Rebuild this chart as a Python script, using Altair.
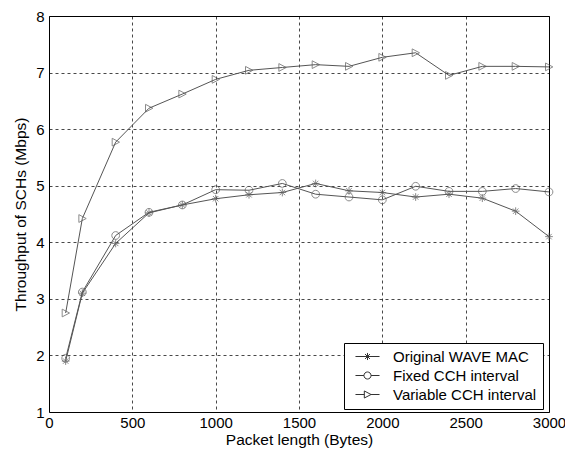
import altair as alt
import pandas as pd

packet_len = [100, 200, 400, 600, 800, 1000, 1200, 1400, 1600, 1800, 2000, 2200, 2400, 2600, 2800, 3000]
original = [1.90, 3.10, 3.98, 4.52, 4.66, 4.77, 4.84, 4.88, 5.04, 4.91, 4.88, 4.80, 4.85, 4.78, 4.55, 4.10]
fixed = [1.95, 3.12, 4.12, 4.53, 4.66, 4.93, 4.92, 5.04, 4.85, 4.80, 4.75, 4.99, 4.90, 4.90, 4.95, 4.89]
variable = [2.75, 4.42, 5.77, 6.37, 6.62, 6.88, 7.04, 7.09, 7.14, 7.11, 7.27, 7.35, 6.95, 7.11, 7.11, 7.10]
series = ["Original WAVE MAC", "Fixed CCH interval", "Variable CCH interval"]

rows = []
for name, vals in zip(series, [original, fixed, variable]):
    for x, y in zip(packet_len, vals):
        rows.append({"x": x, "y": y, "s": name})
df = pd.DataFrame(rows)

star = "M-1,0L1,0M0,-1L0,1M-0.7,-0.7L0.7,0.7M-0.7,0.7L0.7,-0.7"
circ = "M-1,0A1,1 0 1,0 1,0A1,1 0 1,0 -1,0Z"
tri = "M-0.9,-1L1,0L-0.9,1Z"

leg_star = "M-3.4,0L3.4,0M0,-1L0,1M-0.7,-0.7L0.7,0.7M-0.7,0.7L0.7,-0.7"
leg_circ = "M-3.4,0L-1,0M1,0L3.4,0M-1,0A1,1 0 1,0 1,0A1,1 0 1,0 -1,0"
leg_tri = "M-3.4,0L-0.9,0M1,0L3.4,0M-0.9,-1L1,0L-0.9,1Z"

font = "Liberation Sans"

xenc = alt.X("x:Q", scale=alt.Scale(domain=[0, 3000], nice=False),
             axis=alt.Axis(values=[0, 500, 1000, 1500, 2000, 2500, 3000], title="Packet length (Bytes)",
                           format="d"))
yenc = alt.Y("y:Q", scale=alt.Scale(domain=[1, 8], nice=False),
             axis=alt.Axis(values=[1, 2, 3, 4, 5, 6, 7, 8], title="Throughput of SCHs (Mbps)", format="d"))

lines = alt.Chart(df).mark_line(color="#555555", strokeWidth=1).encode(
    x=xenc, y=yenc, detail="s:N")

points = alt.Chart(df).mark_point(filled=False, color="#5a5a5a", strokeWidth=1, size=60).encode(
    x="x:Q", y="y:Q",
    shape=alt.Shape("s:N", scale=alt.Scale(domain=series, range=[star, circ, tri]), legend=None))

legend_layer = alt.Chart(df).mark_point(filled=False, color="#333333", strokeWidth=1, size=60, opacity=0).encode(
    x="x:Q", y="y:Q",
    shape=alt.Shape("s:N", scale=alt.Scale(domain=series, range=[leg_star, leg_circ, leg_tri]),
                    legend=alt.Legend(title=None, orient="none", legendX=295, legendY=327,
                                      symbolOpacity=1, symbolStrokeColor="#333333", symbolStrokeWidth=1,
                                      symbolSize=50, symbolFillColor="white",
                                      labelFont=font, labelFontSize=15, labelColor="black",
                                      strokeColor="black", fillColor="white", padding=6,
                                      rowPadding=3, symbolOffset=10, labelOffset=18)))

chart = alt.layer(lines, points, legend_layer).resolve_scale(shape="independent").properties(
    width=500, height=396,
    autosize=alt.AutoSizeParams(type="none"),
    padding={"left": 41, "top": 8, "right": 16, "bottom": 44},
    background="white",
).configure_view(stroke="black", strokeWidth=1).configure_axis(
    grid=True, gridColor="black", gridDash=[3, 3], gridWidth=0.8, gridOpacity=0.9,
    domain=False, ticks=False,
    labelFont=font, labelFontSize=15, labelColor="black", labelPadding=5,
    titleFont=font, titleFontSize=15.5, titleFontWeight="normal", titleColor="black",
).configure_axisX(titlePadding=2, labelPadding=3, labelFlush=False).configure_axisY(titlePadding=7, labelFlush=False)

chart.save("out.html", embed_options={"renderer": "svg", "actions": False})
